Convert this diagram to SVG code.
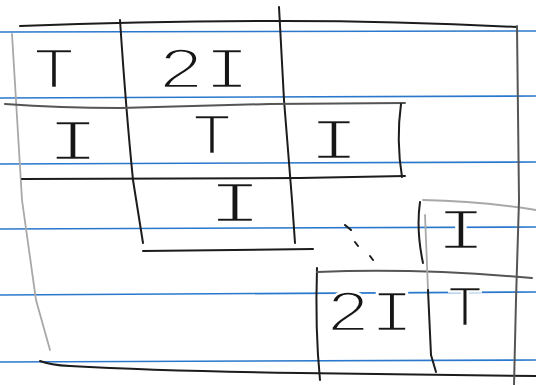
<svg xmlns="http://www.w3.org/2000/svg" width="536" height="385" viewBox="0 0 536 385">
<style>
.rule{stroke:#2a78cc;stroke-width:1.6;fill:none}
.ink{stroke:#1c1c1c;stroke-width:2;fill:none;stroke-linecap:round;stroke-linejoin:round}
.soft{stroke:#555;stroke-width:2;fill:none;stroke-linecap:round}
.pencil{stroke:#a8a8a8;stroke-width:1.8;fill:none;stroke-linecap:round}
.lbl{font-family:"Liberation Mono","DejaVu Sans Mono",monospace;font-size:60px;fill:#161616;stroke:#ffffff;stroke-width:2.4;paint-order:fill stroke}
</style>
<rect width="536" height="385" fill="#ffffff"/>
<g id="ruled-lines">
<line class="rule" x1="0" y1="32" x2="536" y2="31"/>
<line class="rule" x1="0" y1="98" x2="536" y2="96"/>
<line class="rule" x1="0" y1="164" x2="536" y2="162"/>
<line class="rule" x1="0" y1="229" x2="536" y2="227"/>
<line class="rule" x1="0" y1="295" x2="536" y2="292"/>
<line class="rule" x1="0" y1="362" x2="536" y2="360"/>
</g>
<g id="grid">
<path class="ink" d="M20,26 Q150,21 283,21 Q400,21 517,27"/>
<path class="pencil" d="M12,34 L22,200 L36,300 L50,350"/>
<path class="ink" d="M40,361 Q50,365 70,366 Q160,371 300,373 L536,376"/>
<path class="ink" d="M120,20 Q126,110 133,180 L143,243"/>
<path class="ink" d="M279,7 L284,100 L292,200 L295,243"/>
<path class="soft" d="M5,104 Q60,108 120,108 L270,104 L405,103"/>
<path class="ink" d="M401,104 Q396,140 402,177"/>
<path class="ink" d="M22,179 L300,178 L405,176"/>
<path class="ink" d="M143,251 L313,249"/>
<path class="ink" d="M345,225 L351,230 M355,242 L358,246 M370,256 L373,260"/>
<path class="ink" d="M317,268 Q315,330 320,380"/>
<path class="soft" d="M317,272 Q420,268 532,278"/>
<path class="ink" d="M420,202 Q416,230 423,263"/>
<path class="pencil" d="M423,200 Q480,201 536,210"/>
<path class="pencil" d="M425,215 L428,290"/>
<path class="ink" d="M428,290 L431,355 L436,372"/>
<path class="soft" d="M517,26 L519,200 L516,300 L514,385"/>
</g>
<g id="cells">
<text class="lbl" x="33" y="88" textLength="42" lengthAdjust="spacingAndGlyphs">T</text>
<text class="lbl" x="158" y="88" textLength="92" lengthAdjust="spacingAndGlyphs">2I</text>
<text class="lbl" x="46" y="160" textLength="54" lengthAdjust="spacingAndGlyphs">I</text>
<text class="lbl" x="192" y="154" textLength="40" lengthAdjust="spacingAndGlyphs">T</text>
<text class="lbl" x="308" y="159" textLength="52" lengthAdjust="spacingAndGlyphs">I</text>
<text class="lbl" x="207" y="222" textLength="56" lengthAdjust="spacingAndGlyphs">I</text>
<text class="lbl" x="435" y="249" textLength="52" lengthAdjust="spacingAndGlyphs">I</text>
<text class="lbl" x="326" y="331" textLength="88" lengthAdjust="spacingAndGlyphs">2I</text>
<text class="lbl" x="447" y="326" textLength="36" lengthAdjust="spacingAndGlyphs">T</text>
</g>
</svg>
